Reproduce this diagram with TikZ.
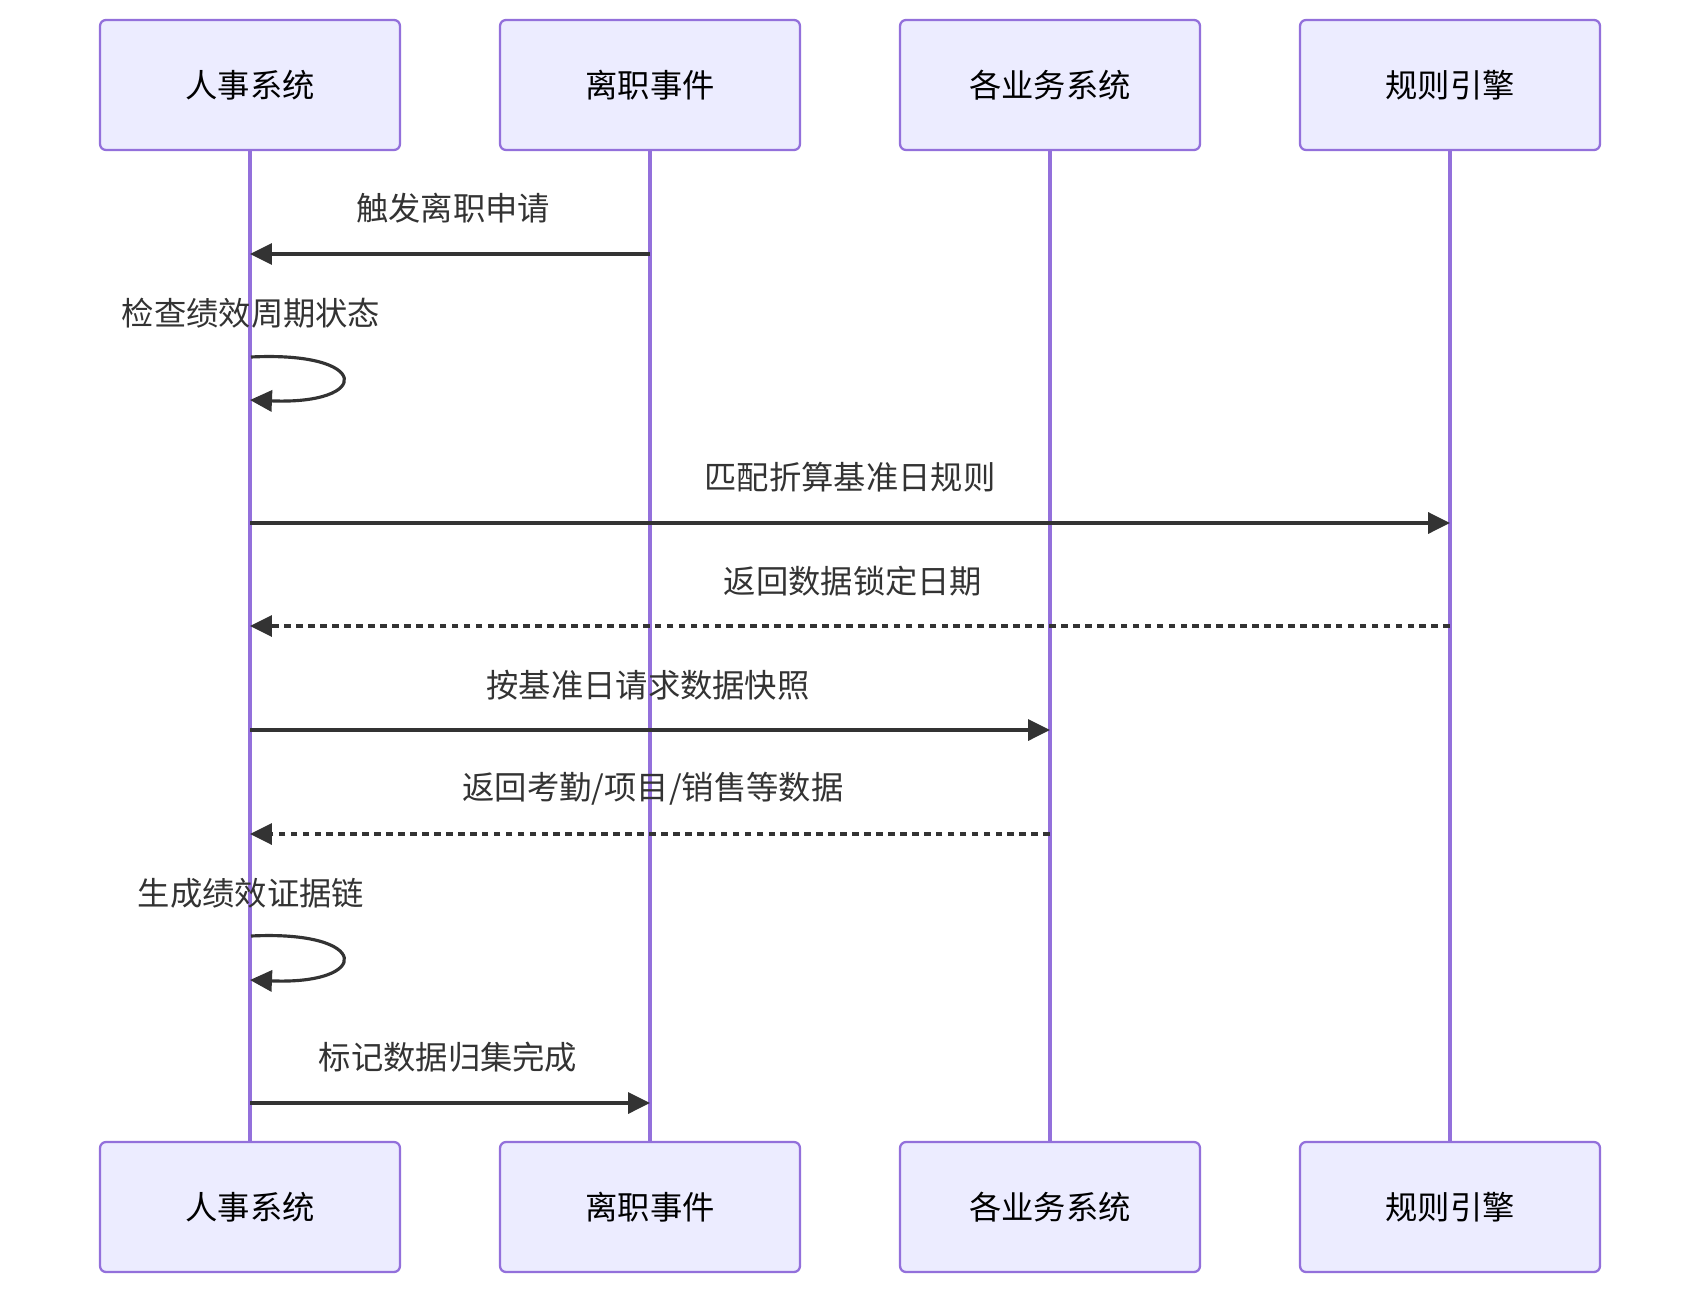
\documentclass[tikz,border=0pt]{standalone}
\usepackage{fontspec}
\setmainfont{Noto Sans CJK SC}
\usetikzlibrary{arrows.meta}
\definecolor{actfill}{HTML}{ECECFF}
\definecolor{actline}{HTML}{9370DB}
\definecolor{msgc}{HTML}{333333}

\begin{document}
\begin{tikzpicture}[x=0.02cm, y=-0.02cm,
    every node/.style={font=\fontsize{18.4}{22}\selectfont},
    act/.style={rectangle, draw=actline, fill=actfill, line width=1.3pt,
                rounded corners=3.4pt, minimum width=6cm, minimum height=2.6cm,
                inner sep=0pt},
    life/.style={draw=actline, line width=2.1pt},
    msg/.style={draw=msgc, line width=1.8pt, -{Triangle[length=12.5pt, width=12pt]}},
    rep/.style={msg, dash pattern=on 3.8pt off 3pt},
    lbl/.style={text=msgc, inner sep=0pt},
  ]
  \useasboundingbox (0,0) rectangle (1700,1294);
  % actors, top and bottom
  \node[act] (hrT) at (250, 85) {人事系统};
  \node[act] (evT) at (650, 85) {离职事件};
  \node[act] (bizT) at (1050, 85) {各业务系统};
  \node[act] (ruleT) at (1450, 85) {规则引擎};
  \node[act] (hrB) at (250, 1207) {人事系统};
  \node[act] (evB) at (650, 1207) {离职事件};
  \node[act] (bizB) at (1050, 1207) {各业务系统};
  \node[act] (ruleB) at (1450, 1207) {规则引擎};
  \draw[life] (hrT) -- (hrB);
  \draw[life] (evT) -- (evB);
  \draw[life] (bizT) -- (bizB);
  \draw[life] (ruleT) -- (ruleB);
  % message rows
  \coordinate (r1) at (0, 254);
  \coordinate (r3) at (0, 523);
  \coordinate (r4) at (0, 626);
  \coordinate (r5) at (0, 730);
  \coordinate (r6) at (0, 834);
  \coordinate (r8) at (0, 1103);
  \coordinate (s1a) at (251, 357);
  \coordinate (s1b) at (250, 400);
  \coordinate (s2a) at (251, 936);
  \coordinate (s2b) at (250, 980);
  \draw[msg] (evT |- r1) -- node[lbl, xshift=0.06cm, yshift=0.92cm] {触发离职申请} (hrT |- r1);
  \node[lbl] (t2) at (251, 313) {检查绩效周期状态};
  \draw[msg] (s1a) .. controls (372, 351) and (372, 405) .. (s1b);
  \draw[msg] (hrT |- r3) -- node[lbl, yshift=0.91cm] {匹配折算基准日规则} (ruleT |- r3);
  \draw[rep] (ruleT |- r4) -- node[lbl, xshift=0.06cm, yshift=0.9cm] {返回数据锁定日期} (hrT |- r4);
  \draw[msg] (hrT |- r5) -- node[lbl, xshift=-0.04cm, yshift=0.9cm] {按基准日请求数据快照} (bizT |- r5);
  \draw[rep] (bizT |- r6) -- node[lbl, xshift=0.06cm, yshift=0.9cm] {返回考勤/项目/销售等数据} (hrT |- r6);
  \node[lbl] (t7) at (251, 893) {生成绩效证据链};
  \draw[msg] (s2a) .. controls (372, 930) and (372, 985) .. (s2b);
  \draw[msg] (hrT |- r8) -- node[lbl, xshift=-0.04cm, yshift=0.91cm] {标记数据归集完成} (evT |- r8);
\end{tikzpicture}
\end{document}
